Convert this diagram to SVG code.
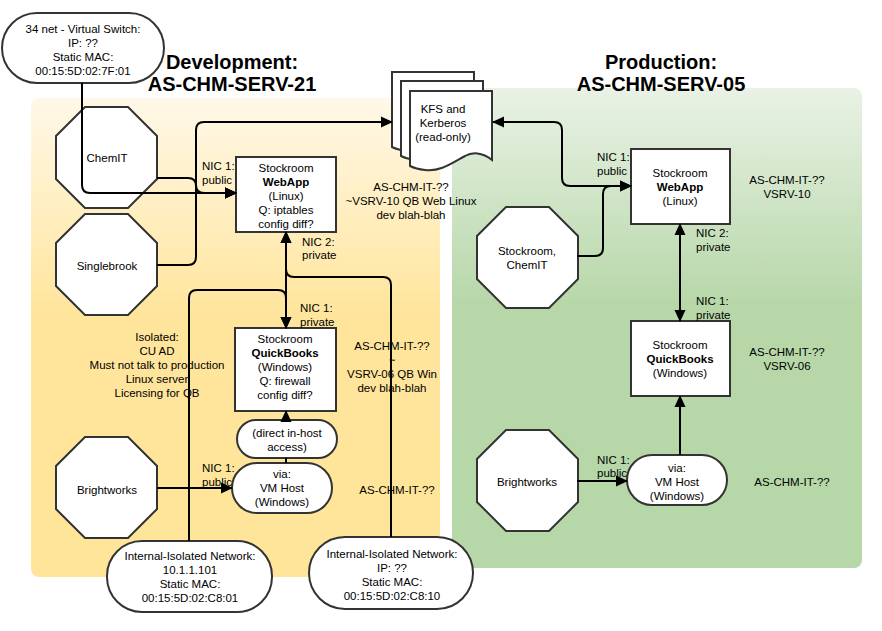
<svg xmlns="http://www.w3.org/2000/svg" width="882" height="631" viewBox="0 0 882 631">
<defs>
<linearGradient id="gDev" x1="0" y1="0" x2="0" y2="1">
<stop offset="0" stop-color="#fff8e8"/>
<stop offset="0.45" stop-color="#ffe59c"/>
<stop offset="1" stop-color="#ffe599"/>
</linearGradient>
<linearGradient id="gProd" x1="0" y1="0" x2="0" y2="1">
<stop offset="0" stop-color="#e9f2e5"/>
<stop offset="0.45" stop-color="#b7d7a9"/>
<stop offset="1" stop-color="#b6d7a8"/>
</linearGradient>
<polygon id="oct" points="29,0 72,0 101,29 101,72 72,101 29,101 0,72 0,29"/>
<path id="page" d="M0,0 H82 V69 C72,61 62,61 55,65 C42,72 30,81 15,79 Q6,78 0,75 Z"/>
<marker id="arr" viewBox="0 0 12 12" refX="11" refY="6" markerWidth="12" markerHeight="12" markerUnits="userSpaceOnUse" orient="auto-start-reverse">
<path d="M0,0.5 L12,6 L0,11.5 Z" fill="#000"/>
</marker>
</defs>
<style>
text{font-family:"Liberation Sans",Arial,sans-serif;font-size:11.5px;fill:#000}
.c{text-anchor:middle}
.b{font-weight:bold}
.t{font-size:20px;font-weight:bold;text-anchor:middle}
.node{fill:#fff;stroke:#333;stroke-width:2}
.edge{fill:none;stroke:#000;stroke-width:2}
.ea{marker-end:url(#arr)}
.eb{marker-start:url(#arr);marker-end:url(#arr)}
</style>

<g id="containers">
<rect x="31" y="98" width="409" height="479" rx="8" fill="url(#gDev)"/>
<rect x="452" y="88" width="410" height="480" rx="8" fill="url(#gProd)"/>
</g>

<g id="titles">
<text class="t" x="232" y="69">Development:</text>
<text class="t" x="232" y="91">AS-CHM-SERV-21</text>
<text class="t" x="661" y="69">Production:</text>
<text class="t" x="661" y="91">AS-CHM-SERV-05</text>
</g>

<g id="vswitch">
<rect class="node" x="2" y="13" width="162" height="70" rx="35"/>
<text class="c" x="83" y="33">34 net - Virtual Switch:</text>
<text class="c" x="83" y="47">IP: ??</text>
<text class="c" x="83" y="61">Static MAC:</text>
<text class="c" x="83" y="75">00:15:5D:02:7F:01</text>
</g>

<g id="kfs">
<use href="#page" x="392" y="72" class="node"/>
<use href="#page" x="401" y="81" class="node"/>
<use href="#page" x="410" y="91" class="node"/>
<text class="c" x="443" y="113">KFS and</text>
<text class="c" x="443" y="127">Kerberos</text>
<text class="c" x="443" y="141">(read-only)</text>
</g>

<g id="dev-chemit">
<use href="#oct" x="56" y="107" class="node"/>
<text class="c" x="107" y="162">ChemIT</text>
</g>
<g id="dev-singlebrook">
<use href="#oct" x="56" y="214" class="node"/>
<text class="c" x="107" y="270">Singlebrook</text>
</g>
<g id="dev-brightworks">
<use href="#oct" x="56" y="437" class="node"/>
<text class="c" x="107" y="494">Brightworks</text>
</g>

<g id="dev-webapp">
<rect class="node" x="236" y="157" width="100" height="75"/>
<text class="c" x="286" y="172">Stockroom</text>
<text class="c b" x="286" y="186">WebApp</text>
<text class="c" x="286" y="200">(Linux)</text>
<text class="c" x="286" y="214">Q: iptables</text>
<text class="c" x="286" y="228">config diff?</text>
</g>

<g id="dev-quickbooks">
<rect class="node" x="235" y="328" width="101" height="83"/>
<text class="c" x="285" y="343">Stockroom</text>
<text class="c b" x="285" y="357">QuickBooks</text>
<text class="c" x="285" y="371">(Windows)</text>
<text class="c" x="285" y="385">Q: firewall</text>
<text class="c" x="285" y="399">config diff?</text>
</g>

<g id="dev-direct">
<rect class="node" x="237" y="420" width="100" height="38" rx="19"/>
<text class="c" x="287" y="437">(direct in-host</text>
<text class="c" x="287" y="451">access)</text>
</g>

<g id="dev-vmhost">
<rect class="node" x="232" y="463" width="100" height="50" rx="25"/>
<text class="c" x="282" y="478">via:</text>
<text class="c" x="282" y="492">VM Host</text>
<text class="c" x="282" y="506">(Windows)</text>
</g>

<g id="dev-net-left">
<rect class="node" x="107" y="541" width="165" height="71" rx="35"/>
<text class="c" x="190" y="560">Internal-Isolated Network:</text>
<text class="c" x="190" y="574">10.1.1.101</text>
<text class="c" x="190" y="588">Static MAC:</text>
<text class="c" x="190" y="602">00:15:5D:02:C8:01</text>
</g>

<g id="dev-net-right">
<rect class="node" x="309" y="537" width="164" height="72" rx="36"/>
<text class="c" x="392" y="558">Internal-Isolated Network:</text>
<text class="c" x="392" y="572">IP: ??</text>
<text class="c" x="392" y="586">Static MAC:</text>
<text class="c" x="392" y="600">00:15:5D:02:C8:10</text>
</g>

<g id="prod-chemit">
<use href="#oct" x="477" y="207" class="node"/>
<text class="c" x="527" y="255">Stockroom,</text>
<text class="c" x="527" y="269">ChemIT</text>
</g>
<g id="prod-brightworks">
<use href="#oct" x="477" y="430" class="node"/>
<text class="c" x="527" y="486">Brightworks</text>
</g>

<g id="prod-webapp">
<rect class="node" x="631" y="149" width="99" height="75"/>
<text class="c" x="680" y="177">Stockroom</text>
<text class="c b" x="680" y="191">WebApp</text>
<text class="c" x="680" y="205">(Linux)</text>
</g>

<g id="prod-quickbooks">
<rect class="node" x="631" y="321" width="99" height="75"/>
<text class="c" x="680" y="349">Stockroom</text>
<text class="c b" x="680" y="363">QuickBooks</text>
<text class="c" x="680" y="377">(Windows)</text>
</g>

<g id="prod-vmhost">
<rect class="node" x="627" y="455" width="100" height="50" rx="25"/>
<text class="c" x="677" y="472">via:</text>
<text class="c" x="677" y="486">VM Host</text>
<text class="c" x="677" y="500">(Windows)</text>
</g>

<g id="connectors">
<path class="edge ea" d="M82,83 V185 Q82,193 90,193 H236"/>
<path class="edge ea" d="M157,178 H188 Q196,178 196,186 V193 H236"/>
<path class="edge ea" d="M157,265 H188 Q196,265 196,257 V193 H236"/>
<path class="edge eb" d="M236,193 H204 Q196,193 196,185 V130 Q196,122 204,122 H392"/>
<path class="edge eb" d="M493,122 H554 Q562,122 562,130 V178 Q562,186 570,186 H631"/>
<path class="edge ea" d="M577,256 H595 Q603,256 603,248 V194 Q603,186 611,186 H631"/>
<path class="edge eb" d="M680,224 V321"/>
<path class="edge ea" d="M680,455 V396"/>
<path class="edge ea" d="M577,481 H627"/>
<path class="edge eb" d="M286,232 V328"/>
<path class="edge ea" d="M189,541 V298 Q189,290 197,290 H278 Q286,290 286,298 V328"/>
<path class="edge ea" d="M391,537 V285 Q391,277 383,277 H294 Q286,277 286,269 V232"/>
<path class="edge ea" d="M286,420 V411"/>
<path class="edge" d="M286,458 V463"/>
<path class="edge ea" d="M157,488 H232"/>
</g>

<g id="labels">
<text x="202" y="170">NIC 1:</text>
<text x="202" y="184">public</text>
<text x="302" y="246">NIC 2:</text>
<text x="302" y="259">private</text>
<text x="300" y="312">NIC 1:</text>
<text x="300" y="326">private</text>
<text x="202" y="472">NIC 1:</text>
<text x="202" y="486">public</text>
<text class="c" x="411" y="191">AS-CHM-IT-??</text>
<text class="c" x="411" y="205">~VSRV-10 QB Web Linux</text>
<text class="c" x="411" y="219">dev blah-blah</text>
<text class="c" x="392" y="350">AS-CHM-IT-??</text>
<text class="c" x="392" y="364">~</text>
<text class="c" x="392" y="378">VSRV-06 QB Win</text>
<text class="c" x="392" y="392">dev blah-blah</text>
<text class="c" x="397" y="494">AS-CHM-IT-??</text>
<text class="c" x="157" y="341">Isolated:</text>
<text class="c" x="157" y="355">CU AD</text>
<text class="c" x="157" y="369">Must not talk to production</text>
<text class="c" x="157" y="383">Linux server</text>
<text class="c" x="157" y="397">Licensing for QB</text>
<text x="597" y="161">NIC 1:</text>
<text x="597" y="175">public</text>
<text x="696" y="237">NIC 2:</text>
<text x="696" y="251">private</text>
<text x="696" y="305">NIC 1:</text>
<text x="696" y="319">private</text>
<text x="597" y="464">NIC 1:</text>
<text x="597" y="477">public</text>
<text class="c" x="787" y="184">AS-CHM-IT-??</text>
<text class="c" x="787" y="198">VSRV-10</text>
<text class="c" x="787" y="356">AS-CHM-IT-??</text>
<text class="c" x="787" y="370">VSRV-06</text>
<text class="c" x="792" y="486">AS-CHM-IT-??</text>
</g>
</svg>
